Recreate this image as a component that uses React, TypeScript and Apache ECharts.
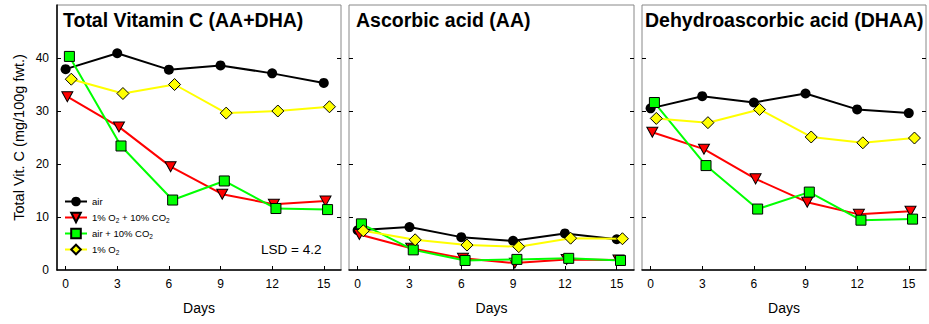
import React, { useEffect, useRef } from "react";
import * as echarts from "echarts";

const days = [0, 3, 6, 9, 12, 15];
const xTicks = [0, 3, 6, 9, 12, 15];
const yLabels = [0, 10, 20, 30, 40];
const yTickValues = [10, 20, 30, 40];

const seriesNames = ["air", "1% O2 + 10% CO2", "air + 10% CO2", "1% O2"];
const legendLabels = ["air", "1% O{s|2} + 10% CO{s|2}", "air + 10% CO{s|2}", "1% O{s|2}"];
const panelTitles = ["Total Vitamin C (AA+DHA)", "Ascorbic acid (AA)", "Dehydroascorbic acid (DHAA)"];

// Total vitamin C
const totalAir = [37.9, 40.9, 37.8, 38.6, 37.1, 35.3];
const totalO2CO2 = [32.7, 27.0, 19.5, 14.3, 12.4, 13.0];
const totalAirCO2 = [40.3, 23.4, 13.2, 16.8, 11.6, 11.4];
const totalO2 = [36.0, 33.3, 35.0, 29.6, 30.0, 30.8];

// Ascorbic acid
const aaAir = [7.5, 8.1, 6.2, 5.5, 6.9, 5.8];
const aaO2CO2 = [6.7, 4.1, 2.2, 1.3, 2.0, 1.9];
const aaAirCO2 = [8.7, 3.8, 1.8, 2.0, 2.2, 1.8];
const aaO2 = [7.4, 5.7, 4.7, 4.4, 6.0, 5.9];

// Dehydroascorbic acid
const dhaaAir = [30.5, 32.8, 31.6, 33.3, 30.3, 29.6];
const dhaaO2CO2 = [26.0, 22.8, 17.2, 12.8, 10.5, 11.1];
const dhaaAirCO2 = [31.6, 19.7, 11.5, 14.7, 9.4, 9.6];
const dhaaO2 = [28.6, 27.8, 30.3, 25.1, 24.0, 24.9];

const lsdText = "LSD = 4.2";

const FONT = "'Liberation Sans', Arial, Helvetica, sans-serif";

export default function App() {
  const ref = useRef<HTMLDivElement>(null);

  useEffect(() => {
    document.body.style.margin = "0";
    if (!ref.current) return;
    const chart = echarts.init(ref.current, null, { renderer: "svg" });

    const panels = [
      [totalAir, totalO2CO2, totalAirCO2, totalO2],
      [aaAir, aaO2CO2, aaAirCO2, aaO2],
      [dhaaAir, dhaaO2CO2, dhaaAirCO2, dhaaO2],
    ];

    const gridLefts = [57, 349, 642];
    const gridWidths = [284, 285, 284];

    const styles = [
      { color: "#000000", symbol: "circle", size: 10, border: "#000000", jitter: 0 },
      { color: "#ff0000", symbol: "path://M0,0L12,0L6,10Z", size: [11, 10], border: "#000000", jitter: 0.1 },
      { color: "#00ff00", symbol: "rect", size: 10, border: "#000000", jitter: 0.22 },
      { color: "#ffff00", symbol: "diamond", size: 12, border: "#000000", jitter: 0.33 },
    ];

    const grids = gridLefts.map((l, i) => ({
      left: l,
      width: gridWidths[i],
      top: 5,
      height: 265,
      show: true,
      borderColor: "#888888",
      borderWidth: 1,
      backgroundColor: "transparent",
    }));

    const xAxes = gridLefts.map((_, i) => ({
      type: "value",
      gridIndex: i,
      min: -0.5,
      max: 16,
      name: "Days",
      nameLocation: "middle",
      nameGap: 31,
      nameTextStyle: { fontSize: 14, color: "#000", fontFamily: FONT },
      axisLine: { show: true, onZero: false, lineStyle: { color: "#000", width: 1.5 } },
      axisTick: { show: true, inside: true, length: 4, customValues: xTicks, lineStyle: { color: "#000" } },
      axisLabel: { show: true, customValues: xTicks, margin: 8, fontSize: 12, color: "#000", fontFamily: FONT },
      splitLine: { show: false },
    }));

    const yAxes: any[] = [];
    gridLefts.forEach((_, i) => {
      yAxes.push({
        type: "value",
        gridIndex: i,
        position: "left",
        min: 0,
        max: 50,
        name: i === 0 ? "Total Vit. C (mg/100g fwt.)" : "",
        nameLocation: "middle",
        nameGap: 31,
        nameTextStyle: { fontSize: 14.5, color: "#000", fontFamily: FONT },
        axisLine: { show: i === 0, onZero: false, lineStyle: { color: "#000", width: 1.5 } },
        axisTick: { show: true, inside: true, length: 4, customValues: yTickValues, lineStyle: { color: "#000" } },
        axisLabel: { show: i === 0, customValues: yLabels, margin: 8, fontSize: 12, color: "#000", fontFamily: FONT },
        splitLine: { show: false },
      });
      yAxes.push({
        type: "value",
        gridIndex: i,
        position: "right",
        min: 0,
        max: 50,
        axisLine: { show: false, onZero: false },
        axisTick: { show: true, inside: true, length: 4, customValues: yTickValues, lineStyle: { color: "#000" } },
        axisLabel: { show: false },
        splitLine: { show: false },
      });
    });

    const series: any[] = [];
    panels.forEach((vals, p) => {
      vals.forEach((v, s) => {
        const st = styles[s];
        series.push({
          type: "line",
          name: seriesNames[s],
          xAxisIndex: p,
          yAxisIndex: p * 2,
          data: days.map((d, k) => [d + st.jitter, v[k]]),
          symbol: st.symbol,
          symbolSize: st.size,
          showAllSymbol: true,
          lineStyle: { color: st.color, width: 2 },
          itemStyle: { color: st.color, borderColor: st.border, borderWidth: s === 0 ? 0 : 1, opacity: 1 },
          z: 2 + s,
        });
      });
    });

    chart.setOption({
      animation: false,
      textStyle: { fontFamily: FONT },
      title: panelTitles.map((t, i) => ({
        text: t,
        left: [63, 356, 645][i],
        top: 10,
        padding: 0,
        textStyle: { fontSize: 19.5, fontWeight: "bold", color: "#000", fontFamily: FONT },
      })),
      legend: {
        data: seriesNames,
        orient: "vertical",
        left: 64,
        top: 195,
        padding: 0,
        itemWidth: 22,
        itemHeight: 12,
        itemGap: 3,
        formatter: (n: string) => legendLabels[seriesNames.indexOf(n)],
        textStyle: {
          fontSize: 9.5,
          lineHeight: 13,
          color: "#000",
          fontFamily: FONT,
          rich: { s: { fontSize: 6.5, lineHeight: 13, verticalAlign: "bottom", color: "#000", fontFamily: FONT } },
        },
      },
      graphic: [
        {
          type: "text",
          left: 261,
          top: 242,
          style: { text: lsdText, fontSize: 13.5, fill: "#000", fontFamily: FONT },
        },
      ],
      grid: grids,
      xAxis: xAxes,
      yAxis: yAxes,
      series,
    });

    return () => chart.dispose();
  }, []);

  return <div ref={ref} style={{ width: 929, height: 324 }} />;
}
